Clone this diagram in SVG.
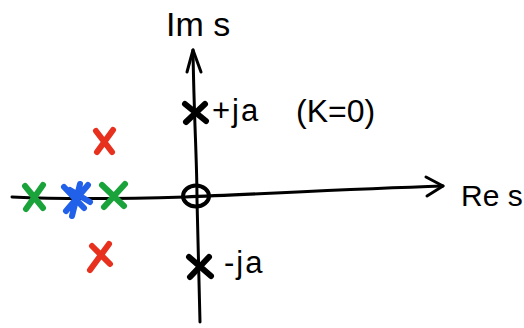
<svg xmlns="http://www.w3.org/2000/svg" width="524" height="328" viewBox="0 0 524 328">
<style>
.ax{fill:none;stroke:#000;stroke-width:3;stroke-linecap:round;stroke-linejoin:round}
.x{fill:none;stroke-width:6;stroke-linecap:round}
.k{stroke:#000}.r{stroke:#e8301f}.g{stroke:#1aa33a}.b{stroke:#2160e8}
text{font-family:"Liberation Sans",Arial,sans-serif;fill:#000}
</style>
<rect width="524" height="328" fill="#fff"/>
<g id="connectors">
<path class="ax" d="M193,50 C194,120 197,160 197,200 C198,250 199,290 200,322"/>
<path class="ax" d="M187,72 L193,50 L201,72"/>
<path class="ax" d="M12,197 C80,200 150,198 185,197 C260,194 350,189 443,186"/>
<path class="ax" d="M426,177 L443,186 L427,196"/>
</g>
<g id="origin"><ellipse cx="196" cy="196" rx="13" ry="10.5" fill="none" stroke="#000" stroke-width="4"/></g>
<g id="pole-top"><path class="x k" d="M185,104 L206,121 M205,104 L186,122"/></g>
<g id="pole-bottom"><path class="x k" d="M189,257 L211,276 M209,257 L190,277"/></g>
<g id="red-top"><path class="x r" d="M96,131 L112,152 M113,130 L97,152"/></g>
<g id="red-bottom"><path class="x r" d="M92,246 L110,264 M109,244 L90,270"/></g>
<g id="green-left"><path class="x g" d="M25,186 L43,208 M43,185 L26,209"/></g>
<g id="green-right"><path class="x g" d="M102,185 L124,206 M125,184 L104,207"/></g>
<g id="blue"><path class="x b" d="M64,187 L84,208 M88,185 L66,211 M80,184 L72,216 M70,190 L90,202"/></g>
<g id="labels">
<text x="166" y="36" font-size="34">Im s</text>
<text x="212" y="121" font-size="31" letter-spacing="2">+ja</text>
<text x="296" y="122" font-size="32">(K=0)</text>
<text x="224" y="273" font-size="31" letter-spacing="2">-ja</text>
<text x="461" y="206" font-size="30">Re s</text>
</g>
</svg>
